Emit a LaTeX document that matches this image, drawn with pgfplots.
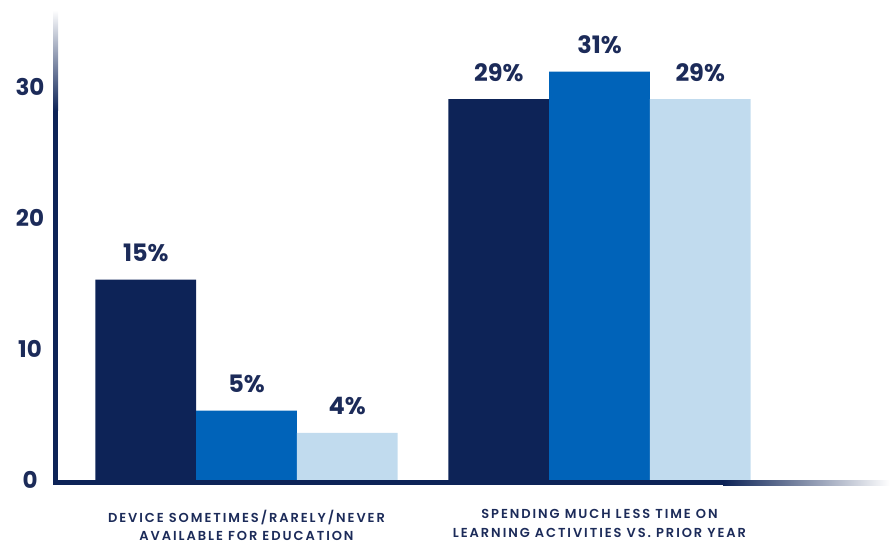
\documentclass[border=0pt]{standalone}
\usepackage{fontspec}
\setmainfont{Poppins}
\newfontfamily\catfont[LetterSpace=15,UprightFont={* SemiBold}]{Poppins}
\usepackage{pgfplots}
\pgfplotsset{compat=1.18}

\definecolor{navy}{RGB}{13,35,87}
\definecolor{midblue}{RGB}{0,99,185}
\definecolor{lightblue}{RGB}{193,219,238}
\definecolor{txt}{RGB}{28,43,89}

\begin{document}
\begin{tikzpicture}
\path[use as bounding box] (0,0) rectangle (890pt,544pt);
\begin{axis}[
    at={(52pt,64pt)}, anchor=south west,
    scale only axis,
    width=838pt, height=470pt,
    ybar=0pt,
    bar width=0.2853,
    xmin=-0.551, xmax=1.823,
    ymin=0, ymax=35.9,
    axis line style={draw=none},
    major tick length=0pt,
    ytick={0,10,20,30},
    xtick={0,1},
    xticklabels={{DEVICE SOMETIMES/RARELY/NEVER\\AVAILABLE FOR EDUCATION},
                 {SPENDING MUCH LESS TIME ON\\LEARNING ACTIVITIES VS. PRIOR YEAR}},
    xticklabel style={align=center, anchor=north, inner sep=0pt, yshift=-29.5pt, text=txt,
        font=\catfont\fontsize{13}{18.5}\selectfont},
    yticklabel style={anchor=center, xshift=-22pt, text=txt,
        font=\bfseries\fontsize{23}{23}\selectfont},
    /pgf/number format/assume math mode=true,
    point meta=y,
    nodes near coords={\pgfmathprintnumber[fixed,precision=0]{\pgfplotspointmeta}\%},
    every node near coord/.append style={anchor=base, yshift=18pt, text=txt,
        font=\bfseries\fontsize{24}{24}\selectfont},
]
\addplot[fill=navy, draw=none] coordinates {(0,15.3) (1,29.1)};
\addplot[fill=midblue, draw=none] coordinates {(0,5.3) (1,31.2)};
\addplot[fill=lightblue, draw=none] coordinates {(0,3.6) (1,29.1)};
\end{axis}
% axis lines with fading ends
\fill[navy] (53pt,59pt) rectangle (58pt,433pt);
\shade[bottom color=navy, top color=white] (53pt,433pt) rectangle (58pt,534pt);
\fill[navy] (53pt,59pt) rectangle (723pt,64pt);
\shade[left color=navy, right color=white] (723pt,59pt) rectangle (890pt,64pt);
\end{tikzpicture}
\end{document}
